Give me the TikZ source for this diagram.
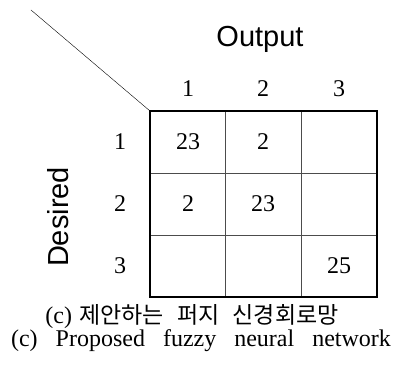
\documentclass[tikz,border=0pt]{standalone}
\usepackage{fontspec}
\setmainfont{Liberation Serif}
\setsansfont{Liberation Sans}
\newfontfamily\kofont{Noto Sans CJK KR}

\begin{document}
\begin{tikzpicture}[x=1pt,y=-1pt,
  num/.style={font=\fontsize{24}{24}\selectfont},
  head/.style={font=\sffamily\fontsize{29}{29}\selectfont},
  captext/.style={font=\fontsize{24}{24}\selectfont, anchor=base}]
\useasboundingbox (0,0) rectangle (402,374);
% table
\coordinate (tl) at (150,111);
\coordinate (br) at (376.7,297);
\foreach \x in {225.5,301} \draw[gray!60!black] (\x,111) -- (\x,297);
\foreach \y in {173,235} \draw[gray!60!black] (150,\y) -- (376.7,\y);
\draw[line width=2.2pt] (tl) rectangle (br);
\coordinate (slash) at (31,10);
\draw (slash) -- (tl);
% labels
\node[head] (out) at (260,39) {Output};
\node[head,rotate=90] (des) at (58,217) {Desired};
\foreach \i/\x in {1/188,2/263,3/339}
  \node[num] (c\i) at (\x,89) {\i};
\foreach \i/\y in {1/142,2/204,3/266}
  \node[num] (r\i) at (120,\y) {\i};
% counts
\node[num] (v11) at (188,142) {23};
\node[num] (v12) at (263,142) {2};
\node[num] (v21) at (188,204) {2};
\node[num] (v22) at (263,204) {23};
\node[num] (v33) at (339,266) {25};
% caption
\node[captext] (capko) at (192,324) {(c)\hspace{0.3em}{\kofont\fontsize{23}{23}\selectfont 제안하는\hspace{0.35em} 퍼지\hspace{0.35em} 신경회로망}};
\node[captext] (capen) at (201,346) {\spaceskip=0.75em (c) Proposed fuzzy neural network};
\end{tikzpicture}
\end{document}
